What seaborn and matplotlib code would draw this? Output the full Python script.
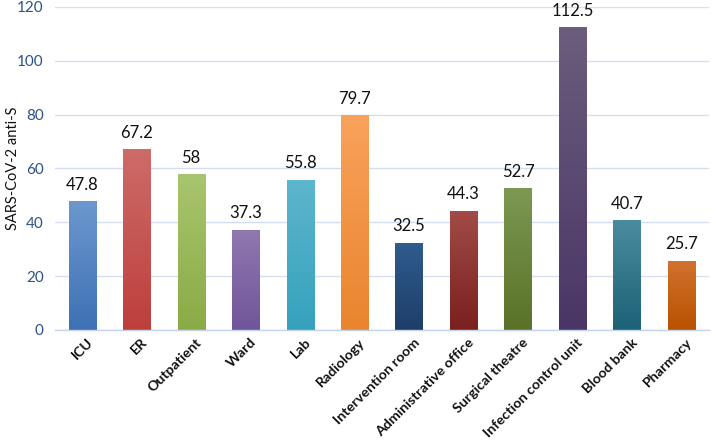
import matplotlib
matplotlib.use("Agg")
import matplotlib.pyplot as plt
import seaborn as sns
import numpy as np
import pandas as pd
from matplotlib.colors import LinearSegmentedColormap

categories = ["ICU", "ER", "Outpatient", "Ward", "Lab", "Radiology", "Intervention room",
              "Administrative office", "Surgical theatre", "Infection control unit",
              "Blood bank", "Pharmacy"]
values = [47.8, 67.2, 58, 37.3, 55.8, 79.7, 32.5, 44.3, 52.7, 112.5, 40.7, 25.7]
value_labels = ["47.8", "67.2", "58", "37.3", "55.8", "79.7", "32.5", "44.3", "52.7", "112.5", "40.7", "25.7"]
top_colors = ["#6c97ce", "#cd6c69", "#a9c570", "#9078b0", "#5cb6cd", "#f9a25c", "#2f5c8e",
              "#a24b47", "#7c9852", "#6b5d7c", "#4b8ba0", "#d2722f"]
bottom_colors = ["#3e71b4", "#bd3f3c", "#89ab44", "#71559a", "#36a1bd", "#e9852e", "#1e3e69",
                 "#7a201f", "#597227", "#4a3666", "#1c6276", "#b95200"]

sns.set_theme(style="white")
plt.rcParams['font.family'] = ['Lato', 'DejaVu Sans']

fig = plt.figure(figsize=(7.12, 4.42), dpi=100)
ax = fig.add_axes([0.0772, 0.2534, 0.9182, 0.7308])

df = pd.DataFrame({"cat": categories, "val": values})
sns.barplot(data=df, x="cat", y="val", ax=ax, width=0.5, color="#4f81bd", saturation=1)

ax.set_ylim(0, 120)
ax.set_xlim(-0.5, len(categories) - 0.5)
ax.set_yticks(np.arange(0, 121, 20))
ax.yaxis.grid(True, color="#d5def0", linewidth=1)
ax.set_axisbelow(True)
for s in ["top", "right", "left"]:
    ax.spines[s].set_visible(False)
ax.spines["bottom"].set_color("#c5d3ee")
ax.spines["bottom"].set_linewidth(1)
ax.tick_params(axis="both", length=0)
ax.tick_params(axis="y", labelsize=11, labelcolor="#2c5286", pad=8)
ax.set_xlabel("")
ax.set_ylabel("SARS-CoV-2 anti-S", fontsize=10.5, color="#111111")
ax.yaxis.set_label_coords(-0.053, 0.5)

ax.set_xticks(range(len(categories)))
ax.set_xticklabels(categories, rotation=45, ha="right", rotation_mode="anchor",
                   fontsize=10.2, fontweight="bold", color="#111111")
for lbl in ax.get_xticklabels():
    lbl.set_transform(lbl.get_transform() + matplotlib.transforms.ScaledTranslation(3/72, -1/72, fig.dpi_scale_trans))

# gradient fills
for i, patch in enumerate(ax.patches):
    x0, y0 = patch.get_x(), patch.get_y()
    w, h = patch.get_width(), patch.get_height()
    cmap = LinearSegmentedColormap.from_list("g", [bottom_colors[i], top_colors[i]])
    grad = np.linspace(0, 1, 256).reshape(-1, 1)
    im = ax.imshow(grad, cmap=cmap, aspect="auto", extent=[x0, x0 + w, y0, y0 + h],
                   origin="lower", zorder=patch.get_zorder() + 0.1)
    im.set_clip_path(patch)
    patch.set_edgecolor("none")

for i, (v, t) in enumerate(zip(values, value_labels)):
    ax.annotate(t, (i, v), xytext=(0, 6), textcoords="offset points", ha="center", va="bottom",
                fontsize=12, color="#111111", annotation_clip=False)

ax.set_xlim(-0.5, len(categories) - 0.5)
ax.set_ylim(0, 120)
fig.savefig("out.png", dpi=100)
